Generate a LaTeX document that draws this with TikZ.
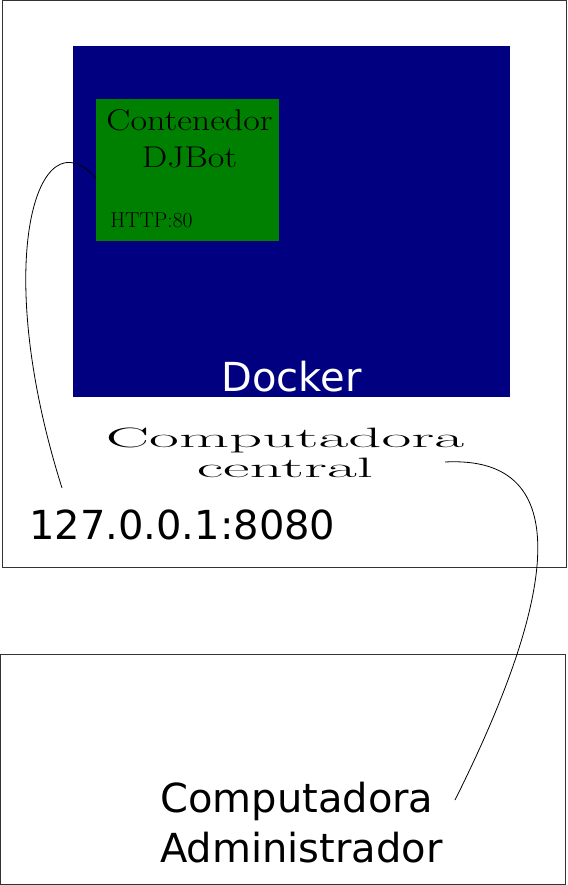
\documentclass[tikz,border=0pt]{standalone}
\usepackage{graphicx}
\usepackage{fontspec}
\newfontfamily\dejavu{DejaVu Sans}
\usetikzlibrary{arrows,positioning}
\definecolor{dockerblue}{HTML}{000080}
\definecolor{djgreen}{HTML}{008000}
\newcommand{\widetext}[2]{\scalebox{#1}[1]{#2}}

\begin{document}
\begin{tikzpicture}[x=1pt,y=-1pt,semithick]
  \tikzstyle{box}=[draw=black!80,line width=1pt,inner sep=0pt,anchor=north west]
  \tikzstyle{fillbox}=[inner sep=0pt,anchor=north west]
  \tikzstyle{sans}=[inner sep=0pt,font=\dejavu\fontsize{40}{50}\selectfont]
  \useasboundingbox (0,0) rectangle (567,885);

  % boxes
  \node[box,minimum width=564pt,minimum height=567pt] (central) at (2,0) {};
  \node[box,minimum width=565pt,minimum height=230pt] (admin) at (0,654) {};
  \node[fillbox,fill=dockerblue,minimum width=437pt,minimum height=351pt] (docker) at (73,46) {};
  \node[fillbox,fill=djgreen,minimum width=183pt,minimum height=142pt] (djbot) at (96,99) {};

  % texts (base = last line)
  \node[inner sep=0pt,anchor=base,align=center,font=\fontsize{30}{37}\selectfont]
       (djbottxt) at (189.5,168) {\widetext{1.2}{Contenedor}\\\widetext{1.2}{DJBot}};
  \node[inner sep=0pt,anchor=base west,font=\fontsize{21.5}{25}\selectfont]
       (http) at (110,228) {HTTP:80};
  \node[sans,anchor=base,text=white] (dockertxt) at (291.5,391) {Docker};
  \node[inner sep=0pt,anchor=base,align=center,font=\fontsize{28}{30}\selectfont]
       (centraltxt) at (285,477) {\widetext{2.32}{Computadora}\\\widetext{2.32}{central}};
  \node[sans,anchor=base west] (ip) at (29,539) {127.0.0.1:8080};
  \node[sans,anchor=base west,align=left] (admintxt) at (160,862) {Computadora\\Administrador};

  % connectors
  \coordinate (ipend) at (62,488);
  \coordinate (centralend) at (445,462);
  \coordinate (adminend) at (455,800);
  \draw[line width=0.8pt] ([yshift=-8pt]djbot.west) .. controls (38,112) and (-10,260) .. (ipend);
  \draw[line width=0.8pt] (centralend) .. controls (578,455) and (556,598) .. (adminend);
\end{tikzpicture}
\end{document}
